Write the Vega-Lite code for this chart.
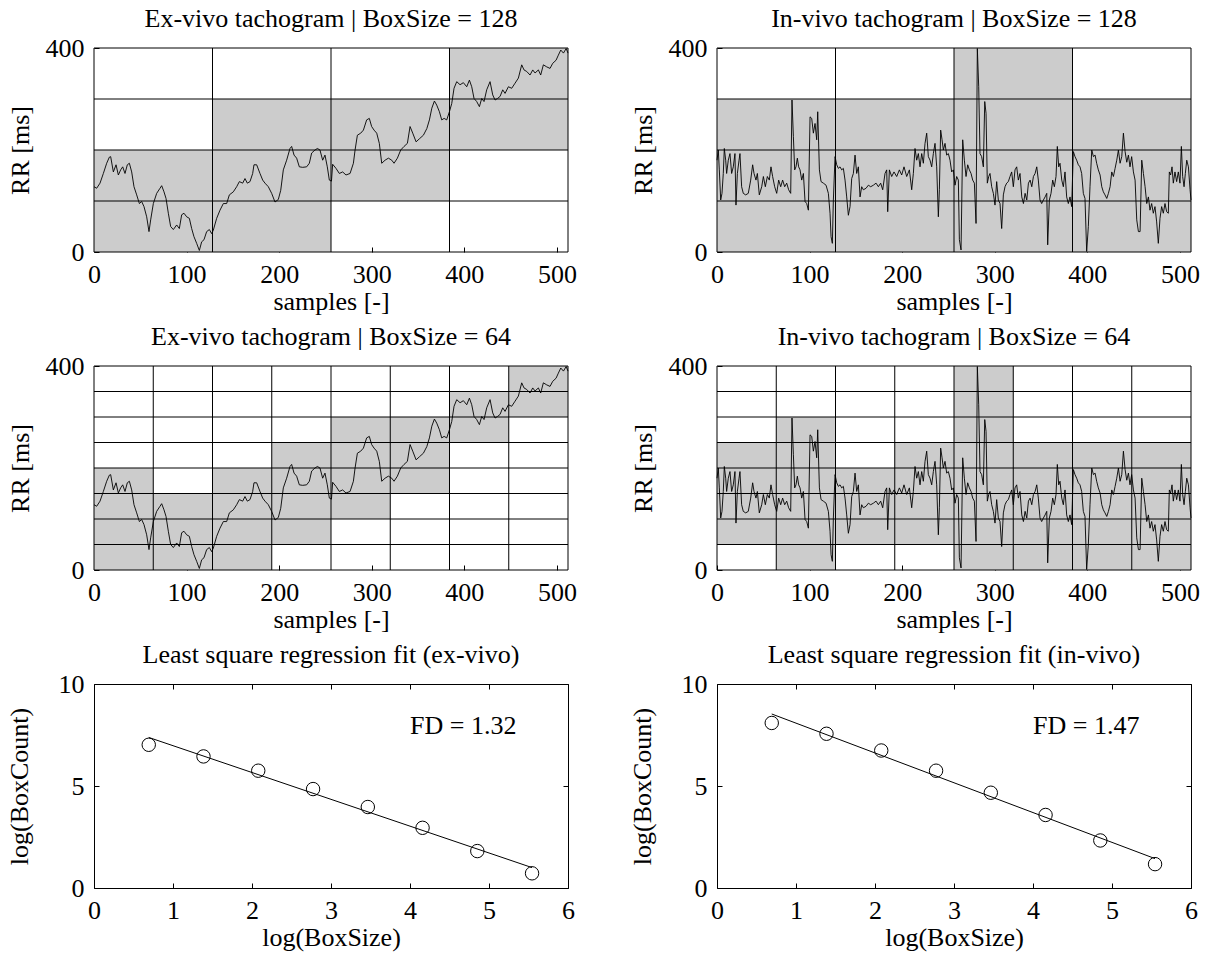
{
"$schema": "https://vega.github.io/schema/vega-lite/v6.json",
"background": "white",
"padding": {"left": 6, "top": 6, "right": 5, "bottom": 5},
"columns": 2,
"bounds": "flush",
"spacing": {"row": 114, "column": 149},
"datasets": {
"ex": [{"s":0,"v":128},{"s":2.9,"v":125},{"s":6.5,"v":135},{"s":10.1,"v":154},{"s":13.7,"v":174},{"s":16.6,"v":186},{"s":18,"v":187},{"s":20.9,"v":157},{"s":23.8,"v":171},{"s":26.3,"v":151},{"s":28.8,"v":161},{"s":31,"v":167},{"s":33.5,"v":154},{"s":36,"v":171},{"s":38.2,"v":174},{"s":40.7,"v":157},{"s":43.2,"v":128},{"s":46.1,"v":112},{"s":49,"v":95},{"s":51.5,"v":99},{"s":54,"v":89},{"s":56.9,"v":69},{"s":59.4,"v":40},{"s":61.2,"v":63},{"s":64.1,"v":95},{"s":67.7,"v":115},{"s":71.3,"v":125},{"s":73.1,"v":130},{"s":75.6,"v":118},{"s":77.8,"v":105},{"s":80.3,"v":76},{"s":82.8,"v":50},{"s":85.7,"v":44},{"s":89.3,"v":53},{"s":92.2,"v":46},{"s":94.7,"v":73},{"s":97.2,"v":76},{"s":100.1,"v":69},{"s":103,"v":66},{"s":105.5,"v":46},{"s":108,"v":30},{"s":110.9,"v":17},{"s":113.8,"v":3},{"s":116.3,"v":20},{"s":118.8,"v":24},{"s":121.7,"v":40},{"s":124.6,"v":44},{"s":127.1,"v":36},{"s":128.9,"v":43},{"s":132.5,"v":66},{"s":136.1,"v":82},{"s":139.7,"v":95},{"s":143.3,"v":95},{"s":146.2,"v":112},{"s":150.5,"v":118},{"s":154.1,"v":128},{"s":157,"v":138},{"s":160.6,"v":135},{"s":163.1,"v":144},{"s":165.6,"v":135},{"s":168.5,"v":138},{"s":171.4,"v":154},{"s":172.8,"v":171},{"s":175.7,"v":171},{"s":179.3,"v":154},{"s":182.2,"v":141},{"s":184.7,"v":135},{"s":188.3,"v":128},{"s":191.9,"v":115},{"s":195.5,"v":98},{"s":199.1,"v":103},{"s":201.7,"v":121},{"s":204.5,"v":161},{"s":208.1,"v":180},{"s":211.7,"v":203},{"s":213.5,"v":207},{"s":216.1,"v":190},{"s":218.9,"v":184},{"s":221.8,"v":167},{"s":225.4,"v":166},{"s":229.7,"v":167},{"s":232.6,"v":174},{"s":235.1,"v":194},{"s":238.7,"v":200},{"s":241.3,"v":203},{"s":244.1,"v":200},{"s":247,"v":180},{"s":249.5,"v":190},{"s":252,"v":167},{"s":254.2,"v":141},{"s":256.5,"v":139},{"s":257.8,"v":172},{"s":261.4,"v":164},{"s":265,"v":154},{"s":268.6,"v":157},{"s":272.2,"v":151},{"s":276.6,"v":154},{"s":280.2,"v":174},{"s":282,"v":200},{"s":284.5,"v":229},{"s":288.1,"v":233},{"s":291,"v":239},{"s":294.5,"v":259},{"s":297.4,"v":262},{"s":299.9,"v":246},{"s":302.5,"v":239},{"s":305.4,"v":233},{"s":308.2,"v":213},{"s":310.8,"v":174},{"s":314.4,"v":180},{"s":318,"v":184},{"s":321.6,"v":180},{"s":324.1,"v":174},{"s":327.7,"v":184},{"s":331.3,"v":200},{"s":334.9,"v":207},{"s":338.5,"v":213},{"s":341.4,"v":246},{"s":344.3,"v":233},{"s":347.9,"v":216},{"s":351.5,"v":222},{"s":355.8,"v":229},{"s":359.5,"v":242},{"s":362.3,"v":259},{"s":364.9,"v":282},{"s":367.7,"v":296},{"s":370.2,"v":288},{"s":373.1,"v":275},{"s":375.6,"v":259},{"s":378.2,"v":262},{"s":381,"v":259},{"s":383.9,"v":275},{"s":386.4,"v":291},{"s":388.9,"v":321},{"s":391.8,"v":334},{"s":395.4,"v":328},{"s":399,"v":332},{"s":402.6,"v":324},{"s":405.5,"v":337},{"s":408,"v":324},{"s":410.5,"v":301},{"s":413.4,"v":295},{"s":416.3,"v":285},{"s":418.8,"v":301},{"s":421.3,"v":295},{"s":424.2,"v":318},{"s":427.8,"v":334},{"s":430.7,"v":308},{"s":433.2,"v":298},{"s":435.8,"v":301},{"s":438.6,"v":305},{"s":441.5,"v":318},{"s":444,"v":311},{"s":447.6,"v":324},{"s":451.2,"v":321},{"s":454.8,"v":331},{"s":458.4,"v":341},{"s":462,"v":367},{"s":464.5,"v":357},{"s":467.4,"v":354},{"s":471,"v":347},{"s":473.9,"v":357},{"s":476.4,"v":351},{"s":480,"v":357},{"s":482.5,"v":347},{"s":485.4,"v":367},{"s":489,"v":363},{"s":492.6,"v":360},{"s":495.5,"v":370},{"s":499.1,"v":376},{"s":501.6,"v":386},{"s":504.2,"v":396},{"s":507.1,"v":390},{"s":510,"v":399},{"s":512,"v":390}],
"inv": [{"s":0,"v":180},{"s":1.4,"v":200},{"s":2.5,"v":161},{"s":4,"v":102},{"s":5.4,"v":115},{"s":6.8,"v":154},{"s":7.9,"v":203},{"s":9.4,"v":180},{"s":10.4,"v":154},{"s":12.2,"v":180},{"s":14,"v":193},{"s":15.8,"v":154},{"s":17.6,"v":167},{"s":19.4,"v":193},{"s":20.5,"v":92},{"s":22,"v":154},{"s":23.8,"v":180},{"s":24.8,"v":193},{"s":26.6,"v":128},{"s":28.4,"v":115},{"s":31,"v":112},{"s":33.8,"v":115},{"s":36.4,"v":141},{"s":38.5,"v":171},{"s":40,"v":154},{"s":42.1,"v":141},{"s":43.6,"v":154},{"s":45.7,"v":112},{"s":48.3,"v":128},{"s":50.1,"v":148},{"s":52.2,"v":128},{"s":54.4,"v":148},{"s":56.5,"v":141},{"s":58.3,"v":167},{"s":60.1,"v":148},{"s":62.3,"v":128},{"s":64.5,"v":115},{"s":66.6,"v":141},{"s":68.8,"v":128},{"s":70.9,"v":141},{"s":73.1,"v":128},{"s":75.3,"v":135},{"s":77.4,"v":122},{"s":79.6,"v":115},{"s":81,"v":298},{"s":82.5,"v":226},{"s":83.9,"v":161},{"s":85.3,"v":167},{"s":86.8,"v":184},{"s":88.2,"v":167},{"s":89.7,"v":161},{"s":91.5,"v":141},{"s":93.3,"v":154},{"s":95.1,"v":99},{"s":96.9,"v":95},{"s":98.7,"v":82},{"s":100.5,"v":265},{"s":102.3,"v":262},{"s":104.1,"v":233},{"s":105.9,"v":252},{"s":107.7,"v":220},{"s":108.8,"v":275},{"s":110.6,"v":161},{"s":112.4,"v":138},{"s":114.9,"v":135},{"s":117.8,"v":131},{"s":120.3,"v":115},{"s":122.1,"v":76},{"s":123.2,"v":30},{"s":124.6,"v":17},{"s":125.7,"v":102},{"s":127.5,"v":187},{"s":129.3,"v":171},{"s":131.1,"v":164},{"s":132.9,"v":167},{"s":134.7,"v":161},{"s":136.5,"v":164},{"s":138.3,"v":141},{"s":140.1,"v":108},{"s":141.9,"v":72},{"s":143.7,"v":89},{"s":145.5,"v":144},{"s":147.3,"v":154},{"s":149.1,"v":190},{"s":150.9,"v":154},{"s":152.7,"v":167},{"s":154.5,"v":108},{"s":156.3,"v":128},{"s":158.1,"v":122},{"s":161,"v":125},{"s":163.5,"v":131},{"s":166,"v":128},{"s":168.9,"v":131},{"s":171.8,"v":135},{"s":174.3,"v":128},{"s":176.8,"v":135},{"s":179,"v":122},{"s":181.5,"v":154},{"s":183.3,"v":161},{"s":184.4,"v":79},{"s":186.2,"v":161},{"s":188.7,"v":148},{"s":191.2,"v":157},{"s":194.1,"v":148},{"s":197,"v":161},{"s":199.5,"v":151},{"s":202,"v":167},{"s":204.9,"v":148},{"s":207.8,"v":161},{"s":210.3,"v":122},{"s":212.1,"v":154},{"s":213.9,"v":203},{"s":215.7,"v":180},{"s":217.5,"v":193},{"s":219.3,"v":167},{"s":221.1,"v":193},{"s":222.9,"v":174},{"s":224.7,"v":213},{"s":226.5,"v":233},{"s":228.3,"v":187},{"s":230.1,"v":180},{"s":231.9,"v":167},{"s":233.7,"v":193},{"s":235.5,"v":213},{"s":237.3,"v":167},{"s":239.1,"v":69},{"s":240.2,"v":122},{"s":241.6,"v":239},{"s":243.1,"v":220},{"s":244.5,"v":200},{"s":246.3,"v":213},{"s":248.1,"v":190},{"s":249.9,"v":193},{"s":251.7,"v":180},{"s":253.5,"v":157},{"s":255.3,"v":161},{"s":257.1,"v":131},{"s":258.9,"v":148},{"s":260.7,"v":141},{"s":261.8,"v":24},{"s":263.6,"v":4},{"s":265.4,"v":220},{"s":267.2,"v":180},{"s":269,"v":148},{"s":270.8,"v":171},{"s":272.6,"v":161},{"s":274.4,"v":154},{"s":276.2,"v":141},{"s":278,"v":135},{"s":279.8,"v":56},{"s":281.2,"v":399},{"s":282.7,"v":324},{"s":284.1,"v":193},{"s":285.9,"v":187},{"s":287.7,"v":167},{"s":289.2,"v":295},{"s":290.6,"v":272},{"s":292,"v":135},{"s":293.5,"v":148},{"s":294.9,"v":154},{"s":296.7,"v":128},{"s":298.5,"v":115},{"s":300.3,"v":92},{"s":302.1,"v":138},{"s":303.9,"v":102},{"s":305.7,"v":95},{"s":307.5,"v":46},{"s":309.3,"v":112},{"s":311.1,"v":128},{"s":312.9,"v":135},{"s":314.7,"v":138},{"s":316.5,"v":148},{"s":318.3,"v":157},{"s":320.1,"v":128},{"s":321.9,"v":161},{"s":323.7,"v":167},{"s":325.5,"v":141},{"s":327.3,"v":154},{"s":329.2,"v":108},{"s":331,"v":95},{"s":332.8,"v":115},{"s":334.6,"v":102},{"s":336.4,"v":135},{"s":338.2,"v":141},{"s":340,"v":128},{"s":341.8,"v":148},{"s":343.6,"v":154},{"s":345.4,"v":167},{"s":347.1,"v":141},{"s":348.9,"v":102},{"s":350.7,"v":95},{"s":352.6,"v":102},{"s":354.4,"v":108},{"s":356.2,"v":115},{"s":357.2,"v":14},{"s":359,"v":102},{"s":360.8,"v":115},{"s":362.6,"v":141},{"s":364.4,"v":128},{"s":366.2,"v":148},{"s":367.6,"v":207},{"s":369.1,"v":167},{"s":370.5,"v":174},{"s":372.4,"v":141},{"s":374.1,"v":128},{"s":375.9,"v":157},{"s":377.7,"v":108},{"s":379.5,"v":95},{"s":381.3,"v":108},{"s":383.1,"v":89},{"s":384.9,"v":197},{"s":386.7,"v":187},{"s":388.5,"v":180},{"s":390.3,"v":171},{"s":392.1,"v":167},{"s":393.9,"v":154},{"s":395.7,"v":115},{"s":397.5,"v":105},{"s":399.3,"v":1},{"s":401.1,"v":50},{"s":402.9,"v":128},{"s":404.8,"v":200},{"s":406.6,"v":187},{"s":408.4,"v":190},{"s":410.1,"v":174},{"s":411.9,"v":161},{"s":413.8,"v":151},{"s":415.6,"v":128},{"s":417.3,"v":118},{"s":419.1,"v":112},{"s":421,"v":105},{"s":422.8,"v":115},{"s":424.6,"v":128},{"s":426.4,"v":157},{"s":428.2,"v":148},{"s":430,"v":164},{"s":431.8,"v":180},{"s":433.6,"v":200},{"s":435.4,"v":174},{"s":437.2,"v":187},{"s":439,"v":233},{"s":440.8,"v":197},{"s":442.6,"v":176},{"s":444.4,"v":190},{"s":446.1,"v":167},{"s":447.9,"v":187},{"s":449.8,"v":157},{"s":451.6,"v":141},{"s":453.4,"v":63},{"s":455.2,"v":40},{"s":457,"v":40},{"s":458.8,"v":180},{"s":460.6,"v":154},{"s":462.4,"v":128},{"s":464.2,"v":95},{"s":466,"v":108},{"s":467.7,"v":82},{"s":469.5,"v":95},{"s":471.3,"v":76},{"s":473.1,"v":89},{"s":474.9,"v":59},{"s":476.7,"v":17},{"s":478.5,"v":66},{"s":480.3,"v":89},{"s":482.1,"v":76},{"s":483.9,"v":95},{"s":485.7,"v":79},{"s":487.5,"v":76},{"s":488.6,"v":157},{"s":490,"v":151},{"s":491.5,"v":167},{"s":492.9,"v":135},{"s":494.7,"v":157},{"s":496.5,"v":138},{"s":498.3,"v":157},{"s":500.1,"v":135},{"s":501.6,"v":207},{"s":503,"v":148},{"s":504.5,"v":128},{"s":505.9,"v":154},{"s":507.4,"v":180},{"s":509.2,"v":167},{"s":511,"v":122},{"s":512,"v":102}],
"boxes": [
{"panel":"ex128","x0":0,"x1":128,"y0":0,"y1":200},{"panel":"ex128","x0":128,"x1":256,"y0":0,"y1":300},{"panel":"ex128","x0":256,"x1":384,"y0":100,"y1":300},{"panel":"ex128","x0":384,"x1":512,"y0":200,"y1":400},
{"panel":"in128","x0":0,"x1":128,"y0":0,"y1":300},{"panel":"in128","x0":128,"x1":256,"y0":0,"y1":300},{"panel":"in128","x0":256,"x1":384,"y0":0,"y1":400},{"panel":"in128","x0":384,"x1":512,"y0":0,"y1":300},
{"panel":"ex64","x0":0,"x1":64,"y0":0,"y1":200},{"panel":"ex64","x0":64,"x1":128,"y0":0,"y1":150},{"panel":"ex64","x0":128,"x1":192,"y0":0,"y1":200},{"panel":"ex64","x0":192,"x1":256,"y0":50,"y1":250},{"panel":"ex64","x0":256,"x1":320,"y0":100,"y1":300},{"panel":"ex64","x0":320,"x1":384,"y0":150,"y1":300},{"panel":"ex64","x0":384,"x1":448,"y0":250,"y1":350},{"panel":"ex64","x0":448,"x1":512,"y0":300,"y1":400},
{"panel":"in64","x0":0,"x1":64,"y0":50,"y1":250},{"panel":"in64","x0":64,"x1":128,"y0":0,"y1":300},{"panel":"in64","x0":128,"x1":192,"y0":50,"y1":200},{"panel":"in64","x0":192,"x1":256,"y0":50,"y1":250},{"panel":"in64","x0":256,"x1":320,"y0":0,"y1":400},{"panel":"in64","x0":320,"x1":384,"y0":0,"y1":250},{"panel":"in64","x0":384,"x1":448,"y0":0,"y1":250},{"panel":"in64","x0":448,"x1":512,"y0":0,"y1":250}],
"g128x": [{"gx":0},{"gx":128},{"gx":256},{"gx":384},{"gx":512}],
"g128y": [{"gy":0},{"gy":100},{"gy":200},{"gy":300},{"gy":400}],
"g64x": [{"gx":0},{"gx":64},{"gx":128},{"gx":192},{"gx":256},{"gx":320},{"gx":384},{"gx":448},{"gx":512}],
"g64y": [{"gy":0},{"gy":50},{"gy":100},{"gy":150},{"gy":200},{"gy":250},{"gy":300},{"gy":350},{"gy":400}],
"pts": [{"panel":"ex","lx":0.693,"ly":7.02},{"panel":"ex","lx":1.386,"ly":6.45},{"panel":"ex","lx":2.079,"ly":5.75},{"panel":"ex","lx":2.773,"ly":4.85},{"panel":"ex","lx":3.466,"ly":3.97},{"panel":"ex","lx":4.159,"ly":2.95},{"panel":"ex","lx":4.852,"ly":1.81},{"panel":"ex","lx":5.545,"ly":0.72},
{"panel":"in","lx":0.693,"ly":8.09},{"panel":"in","lx":1.386,"ly":7.56},{"panel":"in","lx":2.079,"ly":6.74},{"panel":"in","lx":2.773,"ly":5.75},{"panel":"in","lx":3.466,"ly":4.67},{"panel":"in","lx":4.159,"ly":3.58},{"panel":"in","lx":4.852,"ly":2.33},{"panel":"in","lx":5.545,"ly":1.17}],
"fit": [{"panel":"ex","lx":0.693,"ly":7.38},{"panel":"ex","lx":5.545,"ly":1.0},{"panel":"in","lx":0.693,"ly":8.53},{"panel":"in","lx":5.545,"ly":1.44}],
"fd": [{"panel":"ex","lx":4.0,"ly":7.95,"label":"FD = 1.32"},{"panel":"in","lx":4.0,"ly":7.95,"label":"FD = 1.47"}]
},
"concat": [
{"width": 474, "height": 204, "title": "Ex-vivo tachogram | BoxSize = 128",
 "layer": [
  {"data": {"name": "boxes"}, "transform": [{"filter": "datum.panel === 'ex128'"}], "mark": {"type": "rect", "color": "#cccccc"},
   "encoding": {"x": {"field": "x0", "type": "quantitative", "scale": {"domain": [0, 512], "nice": false, "zero": false}, "axis": {"values": [0,100,200,300,400,500]}, "title": "samples [-]"}, "x2": {"field": "x1"},
                "y": {"field": "y0", "type": "quantitative", "scale": {"domain": [0, 400], "nice": false}, "axis": {"values": [0,400]}, "title": "RR [ms]"}, "y2": {"field": "y1"}}},
  {"data": {"name": "g128x"}, "mark": {"type": "rule", "color": "black", "strokeWidth": 1}, "encoding": {"x": {"field": "gx", "type": "quantitative", "title": "samples [-]"}}},
  {"data": {"name": "g128y"}, "mark": {"type": "rule", "color": "black", "strokeWidth": 1}, "encoding": {"y": {"field": "gy", "type": "quantitative", "title": "RR [ms]"}}},
  {"data": {"name": "ex"}, "mark": {"type": "line", "color": "black", "strokeWidth": 0.9}, "encoding": {"x": {"field": "s", "type": "quantitative", "title": "samples [-]"}, "y": {"field": "v", "type": "quantitative", "title": "RR [ms]"}}}
 ]},
{"width": 474, "height": 204, "title": "In-vivo tachogram | BoxSize = 128",
 "layer": [
  {"data": {"name": "boxes"}, "transform": [{"filter": "datum.panel === 'in128'"}], "mark": {"type": "rect", "color": "#cccccc"},
   "encoding": {"x": {"field": "x0", "type": "quantitative", "scale": {"domain": [0, 512], "nice": false, "zero": false}, "axis": {"values": [0,100,200,300,400,500]}, "title": "samples [-]"}, "x2": {"field": "x1"},
                "y": {"field": "y0", "type": "quantitative", "scale": {"domain": [0, 400], "nice": false}, "axis": {"values": [0,400]}, "title": "RR [ms]"}, "y2": {"field": "y1"}}},
  {"data": {"name": "g128x"}, "mark": {"type": "rule", "color": "black", "strokeWidth": 1}, "encoding": {"x": {"field": "gx", "type": "quantitative", "title": "samples [-]"}}},
  {"data": {"name": "g128y"}, "mark": {"type": "rule", "color": "black", "strokeWidth": 1}, "encoding": {"y": {"field": "gy", "type": "quantitative", "title": "RR [ms]"}}},
  {"data": {"name": "inv"}, "mark": {"type": "line", "color": "black", "strokeWidth": 0.9}, "encoding": {"x": {"field": "s", "type": "quantitative", "title": "samples [-]"}, "y": {"field": "v", "type": "quantitative", "title": "RR [ms]"}}}
 ]},
{"width": 474, "height": 204, "title": "Ex-vivo tachogram | BoxSize = 64",
 "layer": [
  {"data": {"name": "boxes"}, "transform": [{"filter": "datum.panel === 'ex64'"}], "mark": {"type": "rect", "color": "#cccccc"},
   "encoding": {"x": {"field": "x0", "type": "quantitative", "scale": {"domain": [0, 512], "nice": false, "zero": false}, "axis": {"values": [0,100,200,300,400,500]}, "title": "samples [-]"}, "x2": {"field": "x1"},
                "y": {"field": "y0", "type": "quantitative", "scale": {"domain": [0, 400], "nice": false}, "axis": {"values": [0,400]}, "title": "RR [ms]"}, "y2": {"field": "y1"}}},
  {"data": {"name": "g64x"}, "mark": {"type": "rule", "color": "black", "strokeWidth": 1}, "encoding": {"x": {"field": "gx", "type": "quantitative", "title": "samples [-]"}}},
  {"data": {"name": "g64y"}, "mark": {"type": "rule", "color": "black", "strokeWidth": 1}, "encoding": {"y": {"field": "gy", "type": "quantitative", "title": "RR [ms]"}}},
  {"data": {"name": "ex"}, "mark": {"type": "line", "color": "black", "strokeWidth": 0.9}, "encoding": {"x": {"field": "s", "type": "quantitative", "title": "samples [-]"}, "y": {"field": "v", "type": "quantitative", "title": "RR [ms]"}}}
 ]},
{"width": 474, "height": 204, "title": "In-vivo tachogram | BoxSize = 64",
 "layer": [
  {"data": {"name": "boxes"}, "transform": [{"filter": "datum.panel === 'in64'"}], "mark": {"type": "rect", "color": "#cccccc"},
   "encoding": {"x": {"field": "x0", "type": "quantitative", "scale": {"domain": [0, 512], "nice": false, "zero": false}, "axis": {"values": [0,100,200,300,400,500]}, "title": "samples [-]"}, "x2": {"field": "x1"},
                "y": {"field": "y0", "type": "quantitative", "scale": {"domain": [0, 400], "nice": false}, "axis": {"values": [0,400]}, "title": "RR [ms]"}, "y2": {"field": "y1"}}},
  {"data": {"name": "g64x"}, "mark": {"type": "rule", "color": "black", "strokeWidth": 1}, "encoding": {"x": {"field": "gx", "type": "quantitative", "title": "samples [-]"}}},
  {"data": {"name": "g64y"}, "mark": {"type": "rule", "color": "black", "strokeWidth": 1}, "encoding": {"y": {"field": "gy", "type": "quantitative", "title": "RR [ms]"}}},
  {"data": {"name": "inv"}, "mark": {"type": "line", "color": "black", "strokeWidth": 0.9}, "encoding": {"x": {"field": "s", "type": "quantitative", "title": "samples [-]"}, "y": {"field": "v", "type": "quantitative", "title": "RR [ms]"}}}
 ]},
{"width": 474, "height": 204, "title": "Least square regression fit (ex-vivo)",
 "resolve": {"axis": {"x": "independent", "y": "independent"}},
 "layer": [
  {"data": {"name": "pts"}, "transform": [{"filter": "datum.panel === 'ex'"}], "mark": {"type": "point", "shape": "circle", "filled": false, "color": "black", "size": 180, "strokeWidth": 1, "opacity": 1},
   "encoding": {"x": {"field": "lx", "type": "quantitative", "scale": {"domain": [0, 6], "nice": false, "zero": false}, "axis": {"orient": "bottom", "values": [0,1,2,3,4,5,6], "domain": true}, "title": "log(BoxSize)"},
                "y": {"field": "ly", "type": "quantitative", "scale": {"domain": [0, 10], "nice": false}, "axis": {"orient": "left", "values": [0,5,10], "domain": true, "titlePadding": 26}, "title": "log(BoxCount)"}}},
  {"data": {"name": "fit"}, "transform": [{"filter": "datum.panel === 'ex'"}], "mark": {"type": "line", "color": "black", "strokeWidth": 1},
   "encoding": {"x": {"field": "lx", "type": "quantitative", "axis": {"orient": "top", "values": [0,1,2,3,4,5,6], "labels": false, "title": null, "domain": true}},
                "y": {"field": "ly", "type": "quantitative", "axis": {"orient": "right", "values": [0,5,10], "labels": false, "title": null, "domain": true}}}},
  {"data": {"name": "fd"}, "transform": [{"filter": "datum.panel === 'ex'"}], "mark": {"type": "text", "align": "left", "baseline": "middle", "fontSize": 26, "color": "black"},
   "encoding": {"x": {"field": "lx", "type": "quantitative", "axis": null}, "y": {"field": "ly", "type": "quantitative", "axis": null}, "text": {"field": "label"}}}
 ]},
{"width": 474, "height": 204, "title": "Least square regression fit (in-vivo)",
 "resolve": {"axis": {"x": "independent", "y": "independent"}},
 "layer": [
  {"data": {"name": "pts"}, "transform": [{"filter": "datum.panel === 'in'"}], "mark": {"type": "point", "shape": "circle", "filled": false, "color": "black", "size": 180, "strokeWidth": 1, "opacity": 1},
   "encoding": {"x": {"field": "lx", "type": "quantitative", "scale": {"domain": [0, 6], "nice": false, "zero": false}, "axis": {"orient": "bottom", "values": [0,1,2,3,4,5,6], "domain": true}, "title": "log(BoxSize)"},
                "y": {"field": "ly", "type": "quantitative", "scale": {"domain": [0, 10], "nice": false}, "axis": {"orient": "left", "values": [0,5,10], "domain": true, "titlePadding": 26}, "title": "log(BoxCount)"}}},
  {"data": {"name": "fit"}, "transform": [{"filter": "datum.panel === 'in'"}], "mark": {"type": "line", "color": "black", "strokeWidth": 1},
   "encoding": {"x": {"field": "lx", "type": "quantitative", "axis": {"orient": "top", "values": [0,1,2,3,4,5,6], "labels": false, "title": null, "domain": true}},
                "y": {"field": "ly", "type": "quantitative", "axis": {"orient": "right", "values": [0,5,10], "labels": false, "title": null, "domain": true}}}},
  {"data": {"name": "fd"}, "transform": [{"filter": "datum.panel === 'in'"}], "mark": {"type": "text", "align": "left", "baseline": "middle", "fontSize": 26, "color": "black"},
   "encoding": {"x": {"field": "lx", "type": "quantitative", "axis": null}, "y": {"field": "ly", "type": "quantitative", "axis": null}, "text": {"field": "label"}}}
 ]}
],
"config": {
 "font": "Liberation Serif",
 "view": {"stroke": null},
 "title": {"fontSize": 26, "fontWeight": "normal", "font": "Liberation Serif", "color": "black", "offset": 3},
 "axis": {"labelFont": "Liberation Serif", "titleFont": "Liberation Serif", "labelFontSize": 26, "titleFontSize": 26, "titleFontWeight": "normal", "labelColor": "black", "titleColor": "black", "tickColor": "black", "domainColor": "black", "domainWidth": 1, "tickWidth": 1, "grid": false, "domain": false, "tickSize": -5, "labelPadding": 14, "titlePadding": 1, "labelFlush": false, "labelOverlap": false},
 "axisY": {"labelPadding": 15, "titlePadding": 12},
 "text": {"font": "Liberation Serif"}
}
}
